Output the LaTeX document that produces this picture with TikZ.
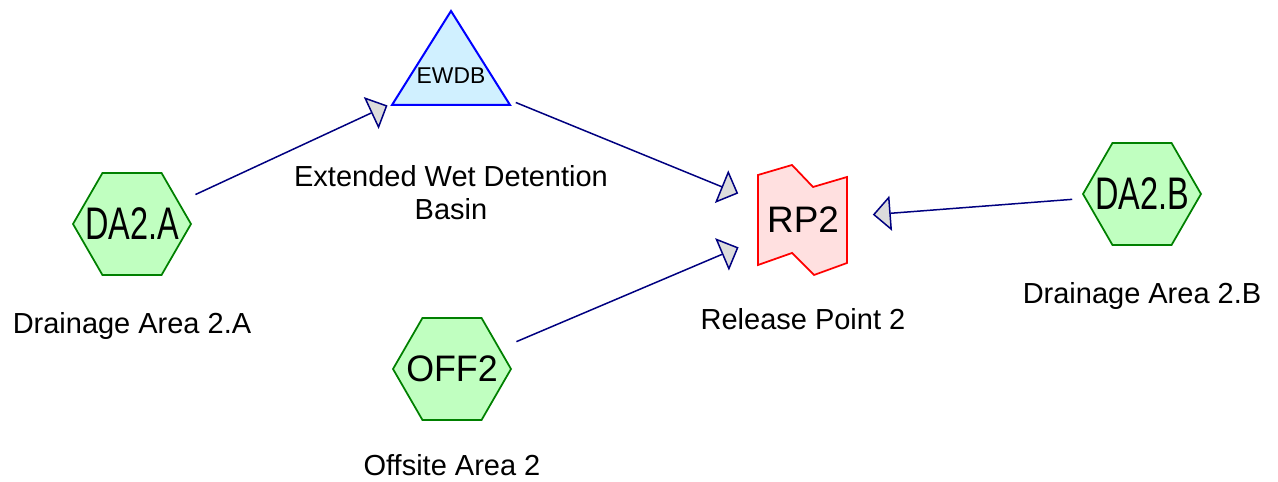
\documentclass[tikz,border=0pt]{standalone}
\usepackage{fontspec}
\setmainfont{Liberation Sans}
\usetikzlibrary{arrows.meta,shapes.geometric}
\definecolor{areafill}{HTML}{C0FFC0}
\definecolor{arealine}{HTML}{008000}
\definecolor{basinfill}{HTML}{D0F0FF}
\definecolor{basinline}{HTML}{0000FF}
\definecolor{releasefill}{HTML}{FFE0E0}
\definecolor{releaseline}{HTML}{FF0000}
\definecolor{flowline}{HTML}{000080}
\definecolor{tipfill}{HTML}{DCDCDC}
% text that does not push the hexagon outwards
\newcommand{\areatext}[2]{\smash{\makebox[0pt]{\raisebox{-.5\height}{\scalebox{#1}[1]{#2}}}}}
\tikzset{
  area/.style={regular polygon, regular polygon sides=6, minimum size=2.36cm,
    inner sep=0pt, outer sep=0pt, draw=arealine, fill=areafill, line width=0.035cm,
    font=\fontsize{26}{26}\selectfont},
  basin/.style={draw=basinline, fill=basinfill, line width=0.04cm, line join=miter},
  release/.style={draw=releaseline, fill=releasefill, line width=0.035cm},
  flow/.style={draw=flowline, line width=0.03cm, shorten <=1.4cm, shorten >=1.4cm,
    -{Triangle[width=0.7cm, length=0.36cm, fill=tipfill]}},
  lbl/.style={font=\fontsize{16.5}{19.3}\selectfont, align=center, anchor=base,
    inner sep=0pt}
}
\begin{document}
\begin{tikzpicture}[x=0.02cm, y=-0.02cm]
  \useasboundingbox (0,0) rectangle (1278,482);
  % Basin
  \coordinate (ewdbpos) at (451,76);
  \draw[basin] ([shift={(0,-65)}]ewdbpos) -- ++(59,94) -- ++(-118,0) -- cycle;
  \node[inner sep=0pt, font=\fontsize{13}{13}\selectfont] (ewdb) at (ewdbpos) {EWDB};
  % Release point
  \coordinate (rp2pos) at (803,220);
  \draw[release] ([shift={(-45,-45)}]rp2pos)
    -- ++(34,-10) -- ++(21,22) -- ++(34,-10) -- ++(0,86)
    -- ++(-33,12) -- ++(-22,-22) -- ++(-34,12) -- cycle;
  \node[inner sep=0pt, font=\fontsize{21}{21}\selectfont] (rp2) at (rp2pos) {RP2};
  % Areas
  \node[area] (da2a) at (132,224) {\areatext{0.71}{DA2.A}};
  \node[area, font=\fontsize{21}{21}\selectfont] (off2) at (452,369) {\areatext{0.97}{OFF2}};
  \node[area] (da2b) at (1142,194) {\areatext{0.71}{DA2.B}};
  % Labels
  \node[lbl] (da2a-lbl) at ([yshift=-2.2cm]da2a.center) {Drainage Area 2.A};
  \node[lbl] (ewdb-lbl) at ([yshift=-2.88cm]ewdb.center) {Extended Wet Detention\\Basin};
  \node[lbl] (off2-lbl) at ([yshift=-2.14cm]off2.center) {Offsite Area 2};
  \node[lbl] (rp2-lbl) at ([yshift=-2.2cm]rp2.center) {Release Point 2};
  \node[lbl] (da2b-lbl) at ([yshift=-2.2cm]da2b.center) {Drainage Area 2.B};
  % Flows
  \draw[flow] (da2a.center) -- (ewdb.center);
  \draw[flow] (ewdb.center) -- (rp2.center);
  \draw[flow] (off2.center) -- (rp2.center);
  \draw[flow] (da2b.center) -- (rp2.center);
\end{tikzpicture}
\end{document}
